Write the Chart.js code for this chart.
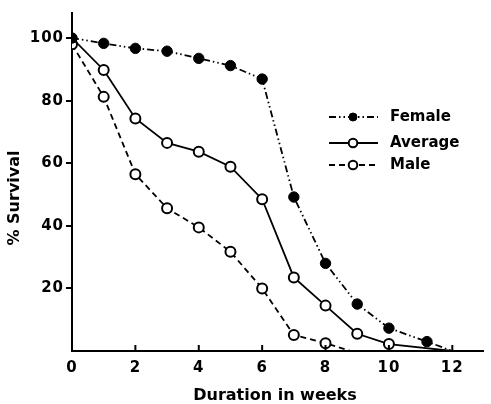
<!DOCTYPE html>
<html><head><meta charset="utf-8">
<script src="https://cdn.jsdelivr.net/npm/chart.js@4"></script>
<style>html,body{margin:0;padding:0;background:#fff}#wrap{width:491px;height:404px;position:relative}</style>
</head><body><div id="wrap"><canvas id="c"></canvas></div>
<script>
const seriesNames = ['Female', 'Average', 'Male'];
const femaleWeeks = [0, 1, 2, 3, 4, 5, 6, 7, 8, 9, 10, 11.2, 12];
const femaleSurvival = [100, 98.3, 96.7, 95.8, 93.5, 91.2, 86.9, 49.2, 28, 15, 7.3, 3, 0];
const averageWeeks = [0, 1, 2, 3, 4, 5, 6, 7, 8, 9, 10, 12];
const averageSurvival = [100, 89.8, 74.3, 66.5, 63.7, 58.9, 48.5, 23.5, 14.5, 5.5, 2.2, 0];
const maleWeeks = [0, 1, 2, 3, 4, 5, 6, 7, 8, 8.8];
const maleSurvival = [98, 81.2, 56.5, 45.6, 39.5, 31.7, 20, 5.1, 2.5, 0];
const xTickValues = [0, 2, 4, 6, 8, 10, 12];
const yTickValues = [20, 40, 60, 80, 100];
const xTitle = 'Duration in weeks';
const yTitle = '% Survival';

const zip = (xs, ys) => xs.map((x, i) => ({x: x, y: ys[i]}));
const endless = (n, r) => Array.from({length: n}, (_, i) => i === n - 1 ? 0 : r);

Chart.defaults.font.family = "'DejaVu Sans', sans-serif";
Chart.defaults.font.weight = 'bold';
Chart.defaults.color = '#000';

const femaleRadius = endless(femaleWeeks.length, 5.2);
const averageRadius = endless(averageWeeks.length, 5); averageRadius[0] = 0;
const maleRadius = endless(maleWeeks.length, 5);

const datasets = [
  {label: seriesNames[0], data: zip(femaleWeeks, femaleSurvival), borderColor: '#000', borderWidth: 1.8,
   borderDash: [7, 3, 1.5, 3, 1.5, 3], pointRadius: femaleRadius, pointBackgroundColor: '#000',
   pointBorderColor: '#000', pointBorderWidth: 1, legendRadius: 4},
  {label: seriesNames[1], data: zip(averageWeeks, averageSurvival), borderColor: '#000', borderWidth: 1.8,
   borderDash: [], pointRadius: averageRadius, pointBackgroundColor: '#fff',
   pointBorderColor: '#000', pointBorderWidth: 2, legendRadius: 4.3},
  {label: seriesNames[2], data: zip(maleWeeks, maleSurvival), borderColor: '#000', borderWidth: 1.8,
   borderDash: [6, 4], pointRadius: maleRadius, pointBackgroundColor: '#fff',
   pointBorderColor: '#000', pointBorderWidth: 2, legendRadius: 4.3}
];

const decor = {
  id: 'decor',
  beforeDraw(chart) { chart.ctx.letterSpacing = '1px'; },
  afterDraw(chart) {
    const ctx = chart.ctx, xs = chart.scales.x, ca = chart.chartArea;
    ctx.save();
    ctx.strokeStyle = '#000'; ctx.lineWidth = 2; ctx.setLineDash([]);
    xTickValues.forEach(v => {
      if (v === 0) return;
      const px = xs.getPixelForValue(v);
      ctx.beginPath(); ctx.moveTo(px, ca.bottom); ctx.lineTo(px, ca.bottom - 6); ctx.stroke();
    });
    ctx.fillStyle = '#000';
    ctx.letterSpacing = '0px';
    ctx.font = "bold 16px 'DejaVu Sans'";
    ctx.textAlign = 'center'; ctx.textBaseline = 'middle';
    ctx.fillText(xTitle, 275, 396);
    ctx.save(); ctx.translate(15, 198); ctx.rotate(-Math.PI / 2);
    ctx.fillText(yTitle, 0, 0); ctx.restore();
    ctx.font = "bold 15px 'DejaVu Sans'";
    ctx.textAlign = 'left';
    const rows = [117, 143, 165];
    chart.data.datasets.forEach((ds, i) => {
      const y = rows[i];
      ctx.strokeStyle = '#000'; ctx.lineWidth = 1.8; ctx.setLineDash(ds.borderDash);
      ctx.beginPath(); ctx.moveTo(329, y); ctx.lineTo(378, y); ctx.stroke();
      ctx.setLineDash([]);
      ctx.beginPath(); ctx.arc(353, y, ds.legendRadius, 0, Math.PI * 2);
      ctx.fillStyle = ds.pointBackgroundColor; ctx.fill();
      ctx.lineWidth = ds.pointBorderWidth; ctx.stroke();
      ctx.fillStyle = '#000';
      ctx.fillText(ds.label, 390, y);
    });
    ctx.restore();
  }
};

new Chart(document.getElementById('c'), {
  type: 'line',
  data: {datasets: datasets},
  plugins: [decor],
  options: {
    responsive: true, maintainAspectRatio: false, animation: false,
    layout: {padding: {left: 0, right: 6, top: 13, bottom: 0}},
    plugins: {legend: {display: false}, tooltip: {enabled: false}},
    elements: {line: {tension: 0}},
    scales: {
      x: {
        type: 'linear', min: 0, max: 13,
        afterBuildTicks: s => { s.ticks = xTickValues.map(v => ({value: v})); },
        afterFit: s => { s.height = 53; },
        grid: {display: true, drawOnChartArea: false, drawTicks: false, color: '#000', lineWidth: 0},
        border: {display: true, color: '#000', width: 2},
        ticks: {padding: 8, font: {size: 15, weight: 'bold'}, color: '#000', maxRotation: 0}
      },
      y: {
        type: 'linear', min: 0, max: 108,
        afterBuildTicks: s => { s.ticks = yTickValues.map(v => ({value: v})); },
        afterFit: s => { s.width = 72; },
        grid: {display: true, drawOnChartArea: false, drawTicks: true, tickLength: 6, color: '#000', lineWidth: 2},
        border: {display: true, color: '#000', width: 2},
        ticks: {padding: 2, font: {size: 15, weight: 'bold'}, color: '#000'}
      }
    }
  }
});
</script>
</body></html>
